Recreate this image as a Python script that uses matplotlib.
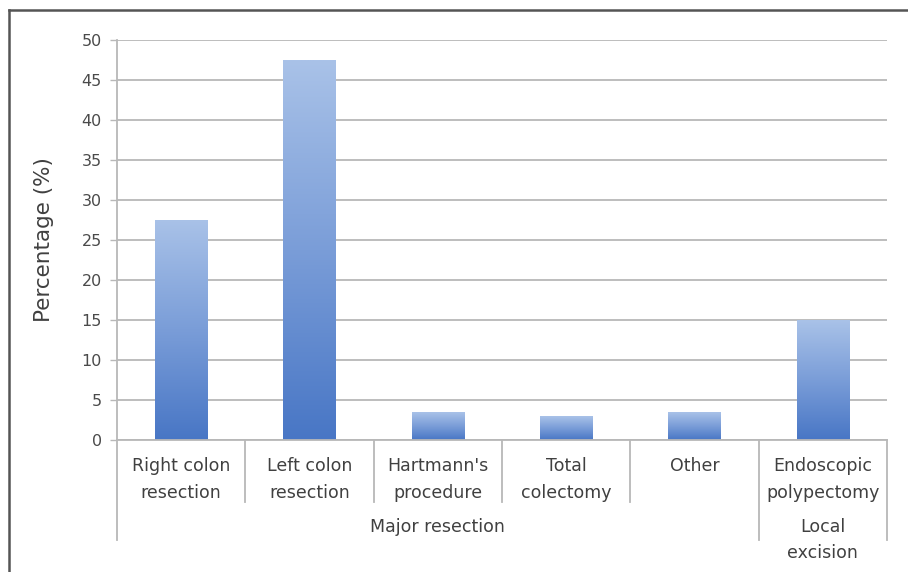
import numpy as np
import matplotlib
matplotlib.use("Agg")
from matplotlib import pyplot as plt
from matplotlib.colors import LinearSegmentedColormap
from matplotlib.lines import Line2D

categories = ["Right colon\nresection", "Left colon\nresection", "Hartmann's\nprocedure",
              "Total\ncolectomy", "Other", "Endoscopic\npolypectomy"]
percentages = [27.5, 47.5, 3.5, 3.0, 3.5, 15.0]
groups = ["Major resection", "Local\nexcision"]
group_sizes = [5, 1]
yticks = [0, 5, 10, 15, 20, 25, 30, 35, 40, 45, 50]

text_col = "#404040"
grid_col = "#b8b8b8"

fig = plt.figure(figsize=(9.08, 5.72), dpi=100)
ax = fig.add_axes([117 / 908, 1 - 440 / 572, 770 / 908, 400 / 572])

x = np.arange(len(categories))
bars = ax.bar(x, percentages, width=0.41, color="none", zorder=2)

# vertical gradient inside each bar, light at the top, darker at the base
cmap = LinearSegmentedColormap.from_list("bluegrad", ["#4876c5", "#7a9dd8", "#a9c2e8"])
grad = np.linspace(0, 1, 256).reshape(-1, 1)
for b in bars:
    x0, w, h = b.get_x(), b.get_width(), b.get_height()
    im = ax.imshow(grad, cmap=cmap, origin="lower", aspect="auto",
                   extent=[x0, x0 + w, 0, h], zorder=2)
    im.set_clip_path(b)

ax.set_xlim(-0.5, len(categories) - 0.5)
ax.set_ylim(0, 50)
ax.set_yticks(yticks)
ax.yaxis.grid(True, color=grid_col, lw=1.3)
ax.set_axisbelow(True)
ax.tick_params(axis="y", length=5, width=1, color=grid_col, labelcolor="#4a4a4a",
               labelsize=11.5, pad=6)
ax.set_xticks([])
for s in ["top", "right"]:
    ax.spines[s].set_visible(False)
for s in ["left", "bottom"]:
    ax.spines[s].set_color(grid_col)
    ax.spines[s].set_linewidth(1.3)

ax.set_ylabel("Percentage (%)", fontsize=15.5, color=text_col, labelpad=20)

# category labels and separators below the axis
trans = ax.get_xaxis_transform()
for xi, lab in zip(x, categories):
    ax.text(xi, -0.043, lab, transform=trans, ha="center", va="top",
            fontsize=12.5, color=text_col, linespacing=1.62)

bounds = np.arange(len(categories) + 1) - 0.5
group_edges = np.concatenate([[0], np.cumsum(group_sizes)]) - 0.5
for bx in bounds:
    low = -0.25 if bx in group_edges else -0.155
    ax.add_line(Line2D([bx, bx], [0, low], transform=trans, color=grid_col,
                       lw=1.3, clip_on=False))

ax.text((group_edges[0] + group_edges[1]) / 2, -0.2175, groups[0], transform=trans,
        ha="center", va="center", fontsize=12.5, color=text_col)
ax.text((group_edges[1] + group_edges[2]) / 2, -0.25, groups[1], transform=trans,
        ha="center", va="center", fontsize=12.5, color=text_col, linespacing=1.62)

# outer frame
fig.add_artist(Line2D([9 / 908, 9 / 908], [0, 1 - 10 / 572], color="#555555", lw=1.8))
fig.add_artist(Line2D([9 / 908, 1], [1 - 10 / 572, 1 - 10 / 572], color="#555555", lw=1.8))

fig.savefig("out.png", dpi=100)
